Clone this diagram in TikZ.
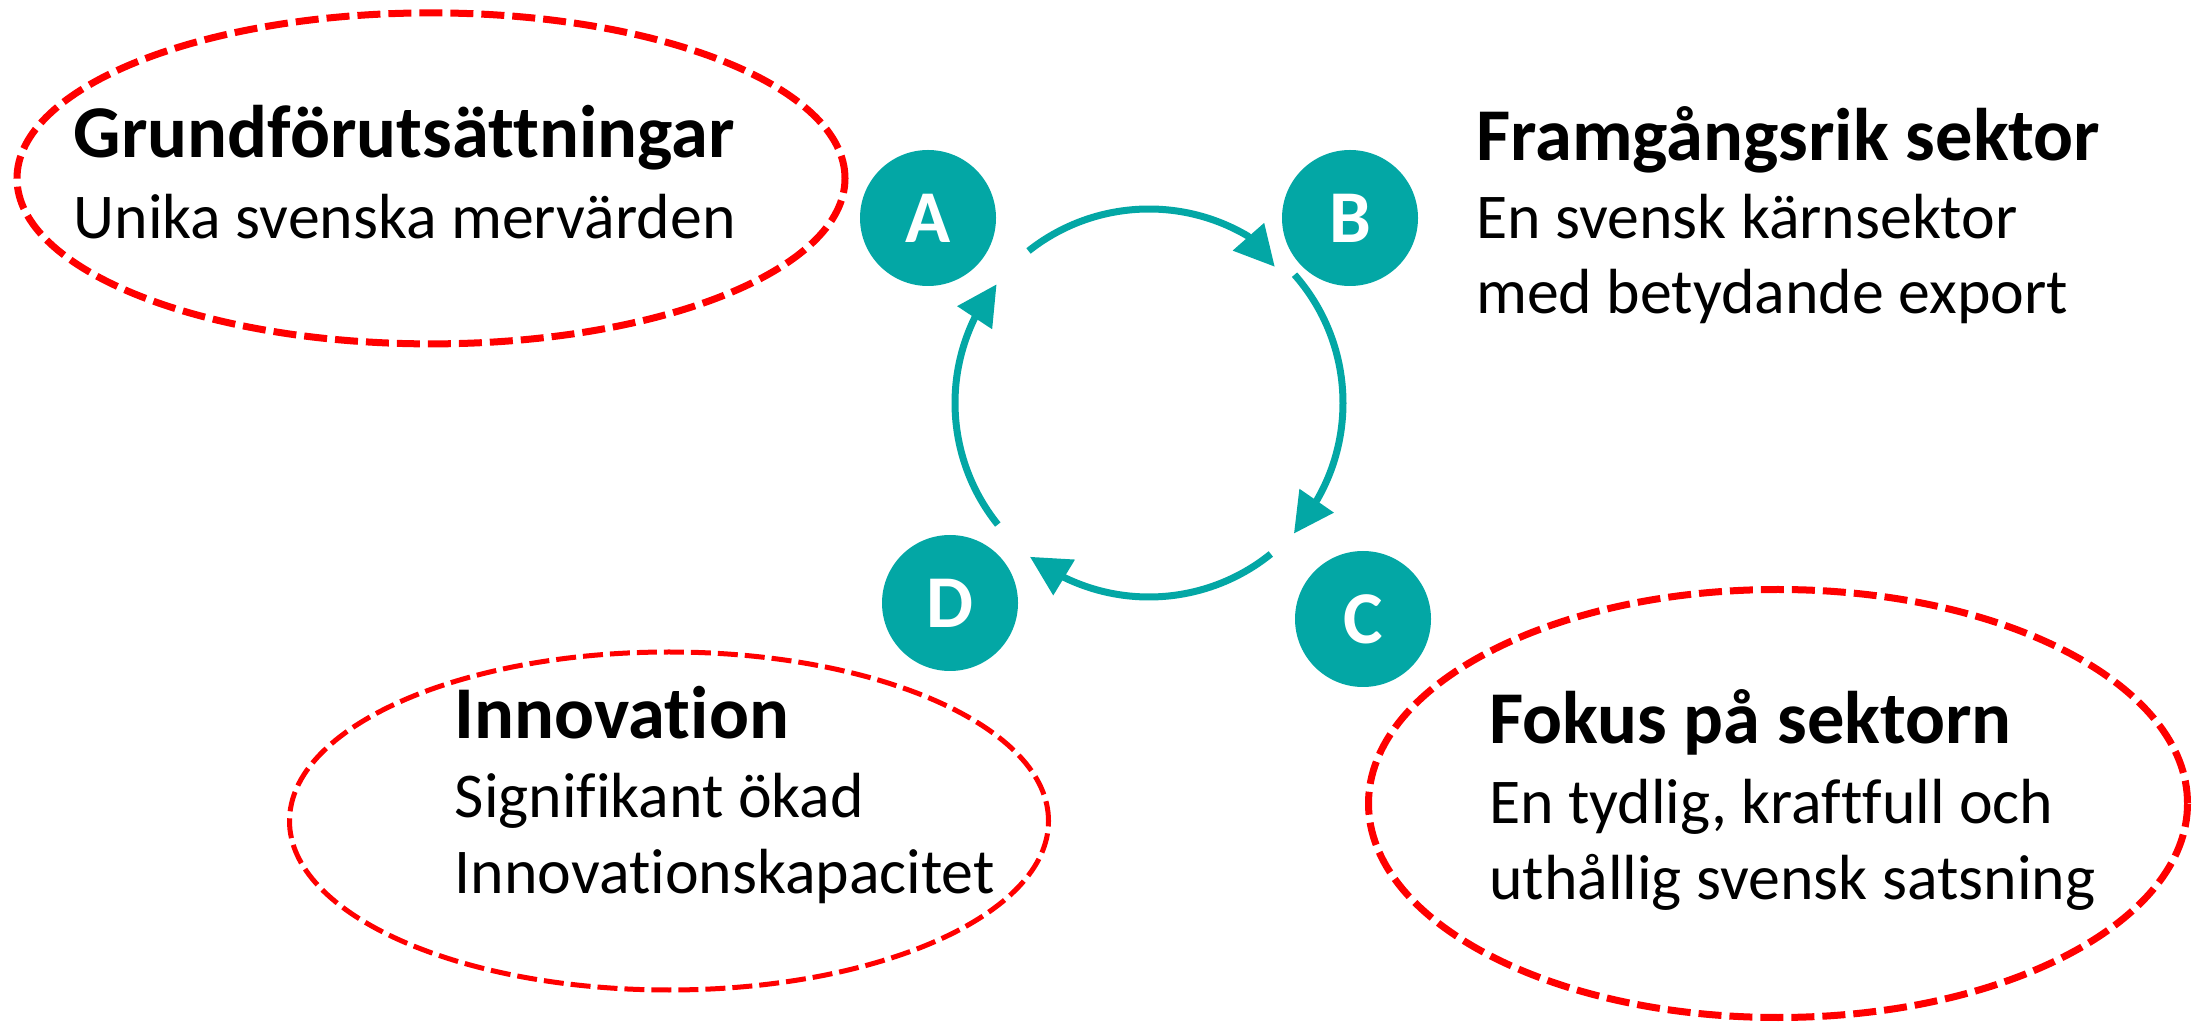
\documentclass[tikz,border=0pt]{standalone}
\usepackage{fontspec}
\setmainfont{Carlito}[Ligatures=CommonOff]
\usetikzlibrary{shapes.geometric,arrows.meta,calc}
\definecolor{tealc}{RGB}{3,167,165}
\definecolor{redc}{RGB}{255,0,0}
\begin{document}
\begin{tikzpicture}[x=1pt,y=1pt,
  oval/.style={ellipse, draw=redc, dash pattern=on 23pt off 8pt, line width=7pt, inner sep=0pt},
  thinoval/.style={oval, line width=5pt, dash pattern=on 20pt off 7pt},
  badge/.style={circle, fill=tealc, text=white, inner sep=0pt, minimum size=136pt, font=\fontsize{74.5}{74.5}\selectfont\bfseries},
  title/.style={anchor=base west, inner sep=0pt, font=\fontsize{74.5}{89}\selectfont\bfseries},
  body/.style={anchor=base west, inner sep=0pt, font=\fontsize{63.8}{76}\selectfont},
  cyc/.style={draw=tealc, line width=7pt, -{Triangle[length=40pt,width=40pt]}}]
\useasboundingbox (0,0) rectangle (2195,1023);

% dashed ovals
\node[oval, minimum width=828pt, minimum height=331pt] (e1) at (431,844.6) {};
\node[thinoval, minimum width=759pt, minimum height=338pt] (e4) at (669,202) {};
\node[oval, minimum width=819pt, minimum height=428pt] (e3) at (1778,219.5) {};

% texts
\node[title] (t1) at (73.7,865) {Grundförutsättningar};
\node[body]  (b1) at (73.7,784) {Unika svenska mervärden};
\node[title] (t2) at (1476,862) {Framgångsrik sektor};
\node[body]  (b2a) at (1476,784.7) {En svensk kärnsektor};
\node[body]  (b2b) at (1476,709) {med betydande export};
\node[title] (t4) at (454.6,284) {Innovation};
\node[body]  (b4a) at (454.6,205.5) {Signifikant ökad};
\node[body]  (b4b) at (454.6,129) {Innovationskapacitet};
\node[title] (t3) at (1489,279.7) {Fokus på sektorn};
\node[body]  (b3a) at (1489,199.7) {En tydlig, kraftfull och};
\node[body]  (b3b) at (1489,123.7) {uthållig svensk satsning};

% badges
\node[badge] (A) at (928,805) {A};
\node[badge] (B) at (1350,805) {B};
\node[badge] (C) at (1363,404) {C};
\node[badge] (D) at (950,420) {D};

% cycle arrows
\coordinate (O) at (1149,620);
\coordinate (sAB) at ($(O)+(128.4:194)$);
\coordinate (tAB) at (1274.8,756.2);
\coordinate (sBC) at ($(O)+(41.4:194)$);
\coordinate (tBC) at (1293.9,489.4);
\coordinate (sCD) at ($(O)+(-51.1:194)$);
\coordinate (tCD) at (1029.9,466.2);
\coordinate (sDA) at ($(O)+(218.8:194)$);
\coordinate (tDA) at (996.6,738.7);

\draw[cyc] (sAB) arc[start angle=128.4, end angle=59.4, radius=194pt] -- (tAB);
\draw[cyc] (sBC) arc[start angle=41.4, end angle=-30.5, radius=194pt] -- (tBC);
\draw[cyc] (sCD) arc[start angle=-51.1, end angle=-116.2, radius=194pt] -- (tCD);
\draw[cyc] (sDA) arc[start angle=218.8, end angle=153.6, radius=194pt] -- (tDA);
\end{tikzpicture}
\end{document}
